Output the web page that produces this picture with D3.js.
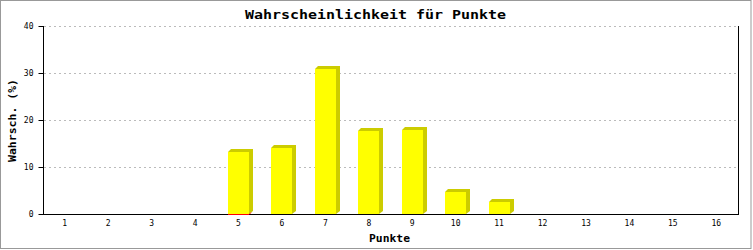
<!DOCTYPE html>
<html><head><meta charset="utf-8">
<script src="https://cdn.jsdelivr.net/npm/d3@7"></script>
<style>body{margin:0;background:#fff}svg{display:block}</style>
</head><body>
<svg id="c" width="753" height="250"></svg>
<script>
const categories = ["1","2","3","4","5","6","7","8","9","10","11","12","13","14","15","16"];
const values = [0,0,0,0,13.2,14.1,30.9,17.7,17.9,4.7,2.6,0,0,0,0,0];
const zeroMarks = [null,null,null,null,0,null,null,null,null,null,null,null,null,null,null,null];
const yTicks = [0,10,20,30,40];
const title = "Wahrscheinlichkeit für Punkte";
const xTitle = "Punkte";
const yTitle = "Wahrsch. (%)";

const svg = d3.select("#c");
const m = {left: 43, right: 738, top: 26, bottom: 214};
const mono = "'DejaVu Sans Mono', monospace";

svg.append("rect").attr("x",0.5).attr("y",0.5).attr("width",750.5).attr("height",248)
  .attr("fill","#fff").attr("stroke","#999").attr("stroke-width",1);

const x = d3.scaleBand().domain(categories).range([m.left, m.right]);
const y = d3.scaleLinear().domain([0,40]).range([m.bottom, m.top]);

// grid
svg.append("g").selectAll("line").data(yTicks.filter(d=>d>0)).join("line")
  .attr("x1", m.left+1).attr("x2", m.right)
  .attr("y1", d=>Math.round(y(d))+0.5).attr("y2", d=>Math.round(y(d))+0.5)
  .attr("stroke","#bbb").attr("stroke-dasharray","2,3");

// bars
const bw = 21, dx = 4, dy = 3;
const bars = svg.append("g");
categories.forEach((c,i)=>{
  const v = values[i];
  if (!v) return;
  const cx = x(c) + x.bandwidth()/2;
  const x0 = Math.round(cx - bw/2), x1 = x0 + bw;
  const yT = Math.round(y(v)), y0 = Math.round(y(0));
  bars.append("polygon")
    .attr("points", [[x0,yT],[x0+dy,yT-dy],[x1+dx,yT-dy],[x1+dx,y0-dy],[x1,y0]].map(p=>p.join(",")).join(" "))
    .attr("fill","#cccc00");
  bars.append("rect").attr("x",x0).attr("y",yT).attr("width",bw).attr("height",y0-yT).attr("fill","#ffff00");
});

// axes
const yAxis = d3.axisLeft(y).tickValues(yTicks).tickSize(5).tickPadding(5);
const gy = svg.append("g").attr("transform",`translate(${m.left+0.5},0)`).call(yAxis);
gy.select(".domain").attr("stroke","#000").attr("d",`M0,${m.top}V${m.bottom+0.5}`);
gy.selectAll(".tick line").attr("stroke","#000");
gy.selectAll(".tick text").attr("font-family",mono).attr("font-size",8).attr("fill","#000");

const xAxis = d3.axisBottom(x).tickSize(0).tickPadding(6);
const gx = svg.append("g").attr("transform",`translate(0,${m.bottom+0.5})`).call(xAxis);
gx.select(".domain").attr("stroke","#000").attr("d",`M${m.left},0H${m.right+0.5}`);
gx.selectAll(".tick text").attr("font-family",mono).attr("font-size",8).attr("fill","#000");

svg.append("line").attr("x1",m.right+0.5).attr("x2",m.right+0.5).attr("y1",m.top).attr("y2",m.bottom+1)
  .attr("stroke","#000");

// zero-height red marks (drawn over the axis line)
categories.forEach((c,i)=>{
  const v = zeroMarks[i];
  if (v === null) return;
  const cx = x(c) + x.bandwidth()/2;
  const x0 = Math.round(cx - bw/2), x1 = x0 + bw;
  const y0 = Math.round(y(v));
  svg.append("path").attr("d", `M${x0},${y0+0.5}H${x1}L${x1+2},${y0-1.5}`)
    .attr("fill","none").attr("stroke","#ff0000").attr("stroke-width",1);
});

// titles
svg.append("text").attr("x",375.5).attr("y",19).attr("text-anchor","middle")
  .attr("font-family",mono).attr("font-weight","bold").attr("font-size",12)
  .attr("textLength",261).attr("lengthAdjust","spacingAndGlyphs").text(title);
svg.append("text").attr("x",(m.left+m.right)/2-1).attr("y",242).attr("text-anchor","middle")
  .attr("font-family",mono).attr("font-weight","bold").attr("font-size",11)
  .attr("textLength",41).attr("lengthAdjust","spacingAndGlyphs").text(xTitle);
svg.append("text").attr("transform","translate(16,120.5) rotate(-90)").attr("text-anchor","middle")
  .attr("font-family",mono).attr("font-weight","bold").attr("font-size",11)
  .attr("textLength",83).attr("lengthAdjust","spacingAndGlyphs").text(yTitle);
</script>
</body></html>
